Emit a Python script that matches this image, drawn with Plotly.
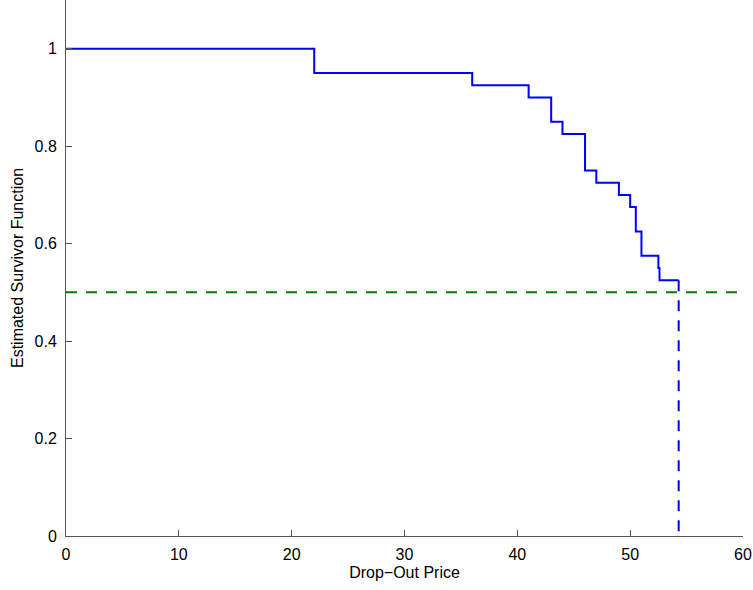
import plotly.graph_objects as go

# Kaplan-Meier style survivor estimate (step function)
drop_price = [0, 22, 36, 41, 43, 44, 46, 47, 49, 50, 50.5, 51, 52.5, 52.6, 54.3]
survivor = [1.0, 0.95, 0.925, 0.9, 0.85, 0.825, 0.75, 0.725, 0.7, 0.675, 0.625, 0.575, 0.55, 0.525, 0.525]
median_price = 54.3
half_level = 0.5
x_range = [0, 60]
y_range = [0, 1.1]
x_ticks = [0, 10, 20, 30, 40, 50, 60]
y_ticks = [0, 0.2, 0.4, 0.6, 0.8, 1]
y_tick_text = ["0", "0.2", "0.4", "0.6", "0.8", "1"]

fig = go.Figure()
fig.add_trace(go.Scatter(
    x=x_range, y=[half_level, half_level], mode="lines",
    line=dict(color="#008000", width=2, dash="11px,9px"), showlegend=False, hoverinfo="skip"))
fig.add_trace(go.Scatter(
    x=drop_price, y=survivor, mode="lines", line_shape="hv",
    line=dict(color="#0000FF", width=2), showlegend=False))
fig.add_trace(go.Scatter(
    x=[median_price, median_price], y=[survivor[-1], 0], mode="lines",
    line=dict(color="#0000FF", width=2, dash="11px,9px"), showlegend=False, hoverinfo="skip"))

font = dict(family="Liberation Sans, Arial, sans-serif", size=16, color="black")
fig.update_layout(
    width=753, height=590,
    margin=dict(l=66, r=10, t=0, b=54),
    paper_bgcolor="white", plot_bgcolor="white",
    font=font,
    xaxis=dict(range=x_range, tickvals=x_ticks, ticks="inside", ticklen=6, tickwidth=1,
               tickcolor="#555555",
               showline=True, linecolor="#555555", linewidth=1, showgrid=False, zeroline=False,
               automargin=False,
               title=dict(text="Drop\u2212Out Price", font=font, standoff=4), ticklabelstandoff=4),
    yaxis=dict(range=y_range, tickvals=y_ticks, ticktext=y_tick_text, ticks="inside", ticklen=6,
               tickwidth=1, tickcolor="#555555", showline=True, linecolor="#555555", linewidth=1,
               showgrid=False, zeroline=False, automargin=False,
               title=dict(text="Estimated Survivor Function", font=font, standoff=6),
               ticklabelstandoff=5),
)
fig.write_html("out.html", post_script="document.body.style.margin='0';",
               config={"displayModeBar": False})
